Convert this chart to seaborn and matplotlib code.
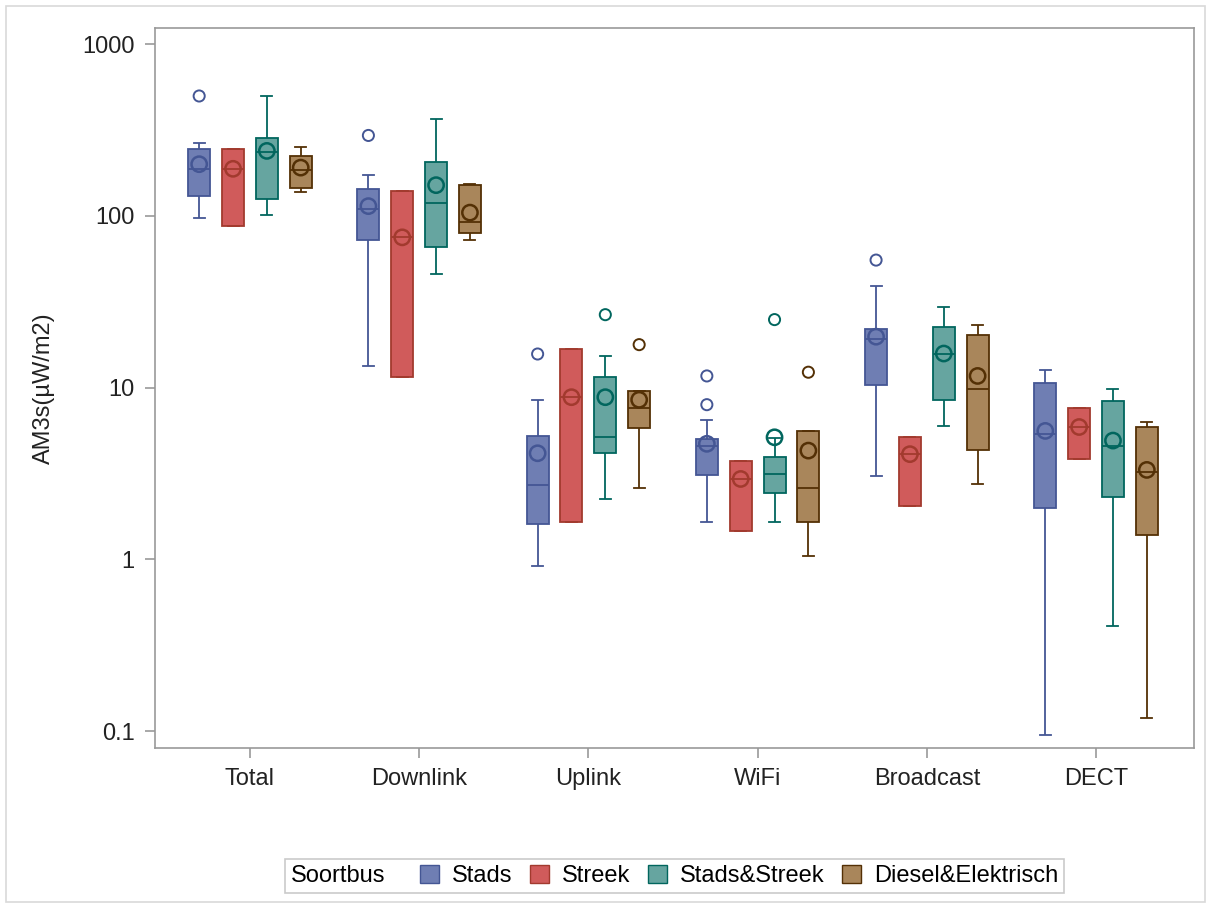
import matplotlib
matplotlib.use("Agg")
import matplotlib.pyplot as plt
from matplotlib.patches import Patch, Rectangle
from matplotlib.ticker import FixedLocator, FixedFormatter, NullLocator
from matplotlib.offsetbox import HPacker, DrawingArea
import pandas as pd
import seaborn as sns

bands = ["Total", "Downlink", "Uplink", "WiFi", "Broadcast", "DECT"]
groups = ["Stads", "Streek", "Stads&Streek", "Diesel&Elektrisch"]

# per band: (whisker low, Q1, median, Q3, whisker high)
stads_box = [(97, 130, 188, 246, 267), (13.3, 72, 110, 144, 172),
             (0.91, 1.6, 2.7, 5.26, 8.5), (1.66, 3.08, 4.6, 5.03, 6.5),
             (3.04, 10.4, 19.2, 22.1, 39), (0.095, 2.0, 5.4, 10.7, 12.6)]
streek_box = [(87.5, 87.5, 188, 244, 244), (11.6, 11.6, 75, 140, 140),
              (1.65, 1.65, 8.8, 16.8, 16.8), (1.47, 1.47, 2.94, 3.73, 3.73),
              (2.06, 2.06, 4.1, 5.14, 5.14), (3.85, 3.85, 5.9, 7.58, 7.58)]
mix_box = [(101, 125, 235, 285, 500), (46, 66, 119, 206, 365),
           (2.25, 4.17, 5.19, 11.5, 15.3), (1.66, 2.43, 3.15, 3.93, 5.1),
           (5.96, 8.48, 15.7, 22.6, 29.6), (0.41, 2.3, 4.6, 8.4, 9.8)]
diesel_box = [(137, 145, 184, 223, 253), (72.5, 79, 92, 151, 153),
              (2.61, 5.83, 7.62, 9.52, 9.52), (1.05, 1.66, 2.61, 5.62, 5.62),
              (2.75, 4.36, 9.83, 20.3, 23.1), (0.119, 1.39, 3.22, 5.88, 6.28)]

stads_mean = [200, 114, 4.15, 4.71, 19.8, 5.6]
streek_mean = [188, 75, 8.8, 2.94, 4.1, 5.9]
mix_mean = [239, 151, 8.8, 5.14, 15.8, 4.92]
diesel_mean = [191, 104.5, 8.5, 4.3, 11.7, 3.32]

stads_out = [[499], [294], [15.7], [11.7, 7.96], [55.3], []]
streek_out = [[], [], [], [], [], []]
mix_out = [[], [], [26.6], [24.9], [], []]
diesel_out = [[], [], [17.8], [12.3], [], []]

fills = ["#6F7EB3", "#D05B5B", "#66A5A0", "#A9865B"]
lines = ["#445694", "#A23A2E", "#01665E", "#543005"]

boxes = [stads_box, streek_box, mix_box, diesel_box]
means = [stads_mean, streek_mean, mix_mean, diesel_mean]
outs = [stads_out, streek_out, mix_out, diesel_out]

box_rows, mean_rows, out_rows = [], [], []
for g, bx, mn, ot in zip(groups, boxes, means, outs):
    for i, b in enumerate(bands):
        for v in bx[i]:
            box_rows.append((g, b, v))
        mean_rows.append((g, b, mn[i]))
        for v in ot[i]:
            out_rows.append((g, b, v))
cols = ["Soortbus", "band", "value"]
box_df = pd.DataFrame(box_rows, columns=cols)
mean_df = pd.DataFrame(mean_rows, columns=cols)
out_df = pd.DataFrame(out_rows, columns=cols)

plt.rcParams["font.family"] = ["Liberation Sans", "DejaVu Sans"]
palette = dict(zip(groups, fills))

fig, ax = plt.subplots(figsize=(12.11, 9.08), dpi=100)
fig.subplots_adjust(left=0.128, right=0.986, top=0.969, bottom=0.176)


def open_points(df, size, lw):
    for g, line in zip(groups, lines):
        sub = df[df["Soortbus"] == g]
        if sub.empty:
            continue
        n0 = len(ax.collections)
        sns.stripplot(data=sub, x="band", y="value", hue="Soortbus", order=bands,
                      hue_order=groups, palette=palette, dodge=True, jitter=False,
                      size=size, linewidth=lw, log_scale=True, legend=False, ax=ax)
        for c in ax.collections[n0:]:
            c.set_facecolor("none")
            c.set_edgecolor(line)
            c.set_linewidth(lw)
            c.set_zorder(4)


for g, line in zip(groups, lines):
    sub = box_df[box_df["Soortbus"] == g]
    sns.boxplot(data=sub, x="band", y="value", hue="Soortbus", order=bands,
                hue_order=groups, palette=palette, saturation=1, whis=(0, 100),
                dodge=True, width=0.8, gap=0.35, linecolor=line, linewidth=1.3,
                log_scale=True, legend=False, ax=ax)

open_points(mean_df, 11, 1.8)
open_points(out_df, 8, 1.4)

ax.set_xlim(-0.561, 5.579)
ax.set_ylim(0.0796, 1239)
ax.yaxis.set_major_locator(FixedLocator([0.1, 1, 10, 100, 1000]))
ax.yaxis.set_major_formatter(FixedFormatter(["0.1", "1", "10", "100", "1000"]))
ax.yaxis.set_minor_locator(NullLocator())
ax.set_xlabel("")
ax.set_ylabel("AM3s(µW/m2)", fontsize=17, color="#222222", labelpad=20)
ax.tick_params(axis="both", labelsize=17, colors="#999999", labelcolor="#222222",
               length=7.5, width=1.2)
ax.tick_params(axis="y", pad=7)
ax.tick_params(axis="x", pad=7)
for s in ax.spines.values():
    s.set_color("#999999")
    s.set_linewidth(1.2)
ax.set_facecolor("white")
ax.grid(False)

handles = [Patch(facecolor=f, edgecolor=l, linewidth=1) for f, l in zip(fills, lines)]
leg = fig.legend(handles, groups, title="Soortbus", ncol=4, loc="center",
                 bbox_to_anchor=(0.557, 0.035), fontsize=17, title_fontsize=17,
                 frameon=True, fancybox=False, edgecolor="#bdbdbd",
                 handlelength=0.8, handleheight=0.8, handletextpad=0.55,
                 columnspacing=0.75, borderpad=0.25)
leg.get_frame().set_linewidth(1.2)
# put the legend title on the left of the entries
vbox = leg.get_children()[0]
title_box = vbox.get_children()[0]
entries = vbox.get_children()[1]
vbox._children = [entries]
entries.align = "center"
entries._children = [HPacker(children=[title_box, DrawingArea(12, 1)], pad=0, sep=0, align="center")] + entries.get_children()

fig.add_artist(Rectangle((6 / 1211, 6 / 908), 1199 / 1211, 896 / 908, transform=fig.transFigure,
                         fill=False, edgecolor="#d9d9d9", linewidth=1.2))

fig.savefig("out.png", dpi=100, facecolor="white")
